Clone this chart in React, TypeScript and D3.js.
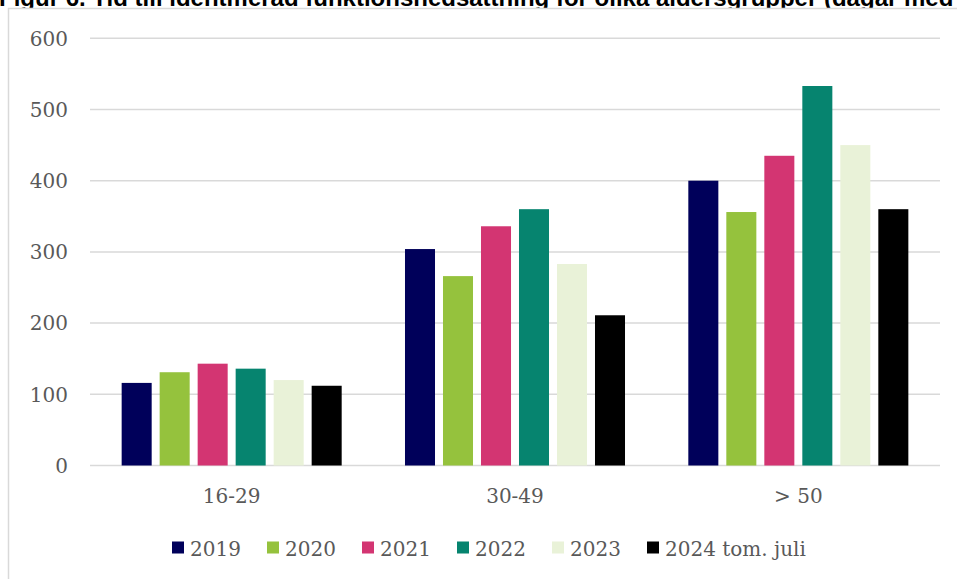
import React from "react";
import * as d3 from "d3";

const categories = ["16-29", "30-49", "> 50"];
const seriesNames = ["2019", "2020", "2021", "2022", "2023", "2024 tom. juli"];
const seriesColors = ["#00005A", "#95C23D", "#D33572", "#06846F", "#E9F2D8", "#000000"];
const v2019 = [116, 304, 400];
const v2020 = [131, 266, 356];
const v2021 = [143, 336, 435];
const v2022 = [136, 360, 533];
const v2023 = [120, 283, 450];
const v2024 = [112, 211, 360];
const seriesValues = [v2019, v2020, v2021, v2022, v2023, v2024];
const yTicks = [0, 100, 200, 300, 400, 500, 600];
const title = "Figur 6. Tid till identifierad funktionsnedsättning för olika åldersgrupper (dagar med";

const W = 957;
const H = 579;

export default function App() {
  const left = 90;
  const right = 940;
  const top = 38.3;
  const bottom = 465.5;

  const y = d3.scaleLinear().domain([0, 600]).range([bottom, top]);
  const x0 = d3.scaleBand<string>().domain(categories).range([left, right]).padding(0);
  const x1 = d3
    .scaleBand<string>()
    .domain(seriesNames)
    .range([0, x0.bandwidth()])
    .paddingInner(0.21)
    .paddingOuter(0.833);

  const serif = "'DejaVu Serif', Georgia, serif";
  const gray = "#595959";
  const legendStep = 95;
  const legendStart = 172;

  return (
    <svg
      width={W}
      height={H}
      style={{ position: "fixed", left: 0, top: 0, background: "#fff" }}
    >
      <rect x={0} y={0} width={W} height={H} fill="#fff" />
      <text
        x={-1}
        y={6}
        fontFamily="'Liberation Sans', Arial, sans-serif"
        fontWeight="bold"
        fontSize={24}
        fill="#000"
      >
        {title}
      </text>
      {/* frame */}
      <rect x={0} y={8} width={W} height={H} fill="#fff" />
      <line x1={8} x2={W + 5} y1={8.5} y2={8.5} stroke="#d9d9d9" strokeWidth={1.5} />
      <line x1={8.5} x2={8.5} y1={8} y2={H + 5} stroke="#d9d9d9" strokeWidth={1.5} />

      {/* gridlines */}
      {yTicks.map((t) => (
        <g key={t}>
          <line
            x1={left}
            x2={right}
            y1={y(t)}
            y2={y(t)}
            stroke="#d9d9d9"
            strokeWidth={1.5}
          />
          <text
            x={68}
            y={y(t)}
            dy="0.36em"
            textAnchor="end"
            fontFamily={serif}
            fontSize={20}
            fill={gray}
          >
            {t}
          </text>
        </g>
      ))}

      {/* bars */}
      {categories.map((c, ci) => (
        <g key={c} transform={`translate(${x0(c)},0)`}>
          {seriesNames.map((s, si) => {
            const v = seriesValues[si][ci];
            return (
              <rect
                key={s}
                x={x1(s)}
                y={y(v)}
                width={x1.bandwidth()}
                height={y(0) - y(v)}
                fill={seriesColors[si]}
              />
            );
          })}
          <text
            x={x0.bandwidth() / 2}
            y={503}
            textAnchor="middle"
            fontFamily={serif}
            fontSize={20}
            fill={gray}
          >
            {c}
          </text>
        </g>
      ))}

      {/* legend */}
      {seriesNames.map((s, i) => {
        const lx = legendStart + i * legendStep;
        return (
          <g key={s}>
            <rect x={lx} y={541.5} width={12} height={12} fill={seriesColors[i]} />
            <text
              x={lx + 18}
              y={555.5}
              fontFamily={serif}
              fontSize={20}
              fill={gray}
            >
              {s}
            </text>
          </g>
        );
      })}
    </svg>
  );
}
